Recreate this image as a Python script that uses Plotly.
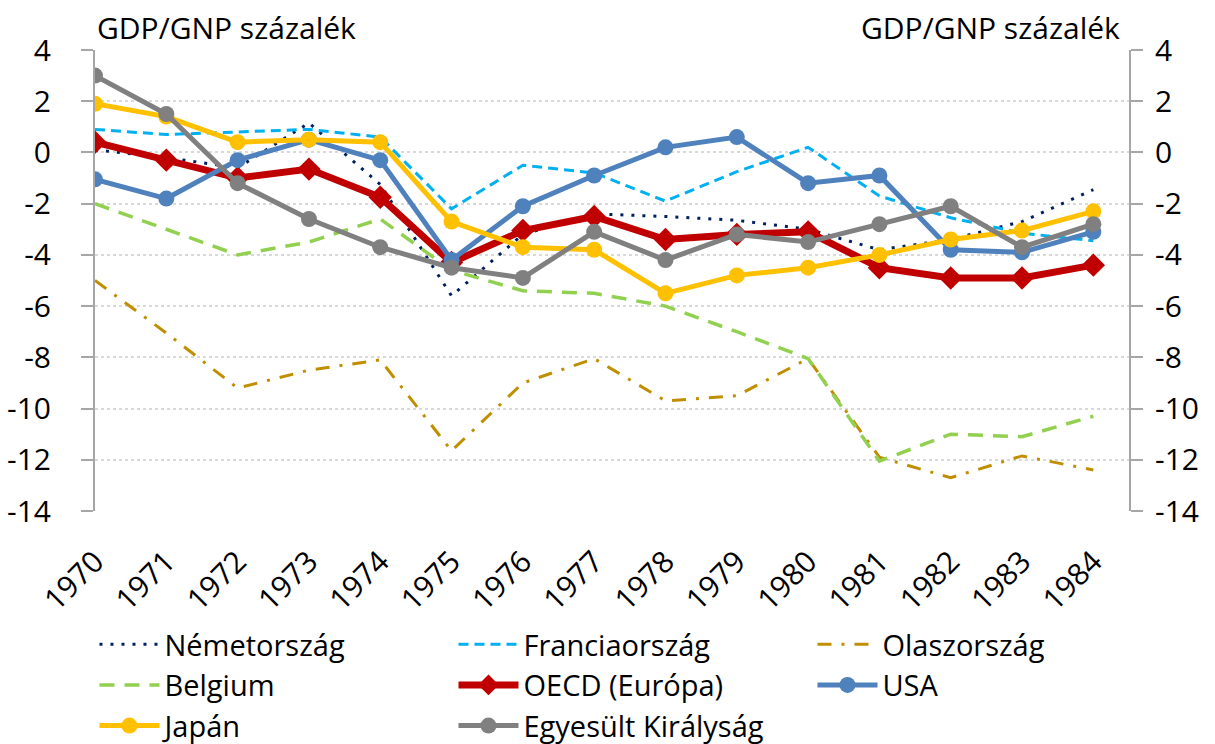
import plotly.graph_objects as go

# ---------------- data ----------------
years = list(range(1970, 1985))
year_labels = [str(y) for y in years]

nemetorszag = [0.1, -0.2, -0.6, 1.15, -1.25, -5.6, -3.2, -2.4, -2.5, -2.65, -3.0, -3.8, -3.4, -2.7, -1.45]
franciaorszag = [0.9, 0.7, 0.8, 0.9, 0.6, -2.2, -0.5, -0.8, -1.9, -0.75, 0.2, -1.7, -2.55, -3.15, -3.45]
olaszorszag = [-5.0, -7.05, -9.2, -8.5, -8.1, -11.65, -9.0, -8.05, -9.7, -9.5, -8.05, -11.9, -12.7, -11.85, -12.4]
belgium = [-2.0, -3.0, -4.0, -3.5, -2.6, -4.6, -5.4, -5.5, -6.0, -7.0, -8.05, -12.05, -11.0, -11.1, -10.3]
oecd_europa = [0.4, -0.3, -1.0, -0.65, -1.75, -4.3, -3.05, -2.5, -3.4, -3.2, -3.1, -4.5, -4.9, -4.9, -4.4]
usa = [-1.05, -1.8, -0.3, 0.5, -0.3, -4.2, -2.1, -0.9, 0.2, 0.6, -1.2, -0.9, -3.8, -3.9, -3.1]
japan = [1.9, 1.4, 0.4, 0.5, 0.4, -2.7, -3.7, -3.8, -5.5, -4.8, -4.5, -4.0, -3.4, -3.05, -2.3]
egyesult_kiralysag = [3.0, 1.5, -1.2, -2.6, -3.7, -4.5, -4.9, -3.1, -4.2, -3.2, -3.5, -2.8, -2.1, -3.7, -2.8]

y_tick_values = [4, 2, 0, -2, -4, -6, -8, -10, -12, -14]
y_tick_labels = ["4", "2", "0", "-2", "-4", "-6", "-8", "-10", "-12", "-14"]
axis_title = "GDP/GNP százalék"

FONT = "'Open Sans', 'Noto Sans', sans-serif"
FS_TEXT = 30
FS_LEGEND = 29
FS_TICK = 30

fig = go.Figure()

def add_line(name, vals, color, width, dash="solid", marker=None):
    kw = dict(x=years, y=vals, name=name,
              line=dict(color=color, width=width, dash=dash))
    if marker:
        kw["mode"] = "lines+markers"
        kw["marker"] = marker
    else:
        kw["mode"] = "lines"
    fig.add_trace(go.Scatter(**kw))

add_line("Németország", nemetorszag, "#002060", 3, dash="3px,8px")
add_line("Franciaország", franciaorszag, "#00b0f0", 3, dash="10px,6px")
add_line("Olaszország", olaszorszag, "#bf8f00", 3, dash="14px,10px,3px,10px")
add_line("Belgium", belgium, "#92d050", 3.5, dash="15px,10px")
add_line("OECD (Európa)", oecd_europa, "#c00000", 7,
         marker=dict(symbol="diamond", size=18, color="#c00000"))
add_line("USA", usa, "#4f81bd", 5,
         marker=dict(symbol="circle", size=16, color="#4f81bd"))
add_line("Japán", japan, "#ffc000", 5,
         marker=dict(symbol="circle", size=16, color="#ffc000"))
add_line("Egyesült Királyság", egyesult_kiralysag, "#808080", 5,
         marker=dict(symbol="circle", size=16, color="#808080"))

# invisible trace on the secondary y axis so the right axis is drawn
fig.add_trace(go.Scatter(x=years, y=egyesult_kiralysag, yaxis="y2", mode="lines",
                         line=dict(width=0), showlegend=False, hoverinfo="skip",
                         opacity=0))

xr = [1970, 1984.5]
yr = [-14, 4]

fig.update_layout(
    width=1215, height=744,
    margin=dict(l=95, r=86, t=50, b=233, autoexpand=False),
    paper_bgcolor="white", plot_bgcolor="white",
    font=dict(family=FONT, size=FS_TEXT, color="#000000"),
    showlegend=True,
    legend=dict(orientation="h", x=-0.0005, xanchor="left", y=-0.234, yanchor="top",
                entrywidth=284, entrywidthmode="pixels", itemwidth=60,
                font=dict(family=FONT, size=FS_LEGEND), traceorder="normal",
                bgcolor="rgba(0,0,0,0)"),
    xaxis=dict(range=xr, tickmode="array", tickvals=years, ticktext=year_labels,
               tickangle=-45, showgrid=False, zeroline=False, showline=False,
               ticks="", ticklabelstandoff=26, tickfont=dict(size=FS_TICK),
               automargin=False),
    xaxis2=dict(range=xr, overlaying="x", anchor="free", position=14 / 18,
                side="bottom", tickmode="array", tickvals=years,
                showticklabels=False, showgrid=False, zeroline=False,
                showline=True, linecolor="#d9d9d9", linewidth=2,
                ticks="outside", ticklen=12, tickwidth=2, tickcolor="#d9d9d9",
                automargin=False),
    yaxis=dict(range=yr, tickmode="array", tickvals=y_tick_values, ticktext=y_tick_labels,
               showgrid=True, gridcolor="#d9d9d9", griddash="dot", gridwidth=1.5,
               zeroline=False, showline=True, linecolor="#a6a6a6", linewidth=2,
               ticks="outside", ticklen=12, tickwidth=2, tickcolor="#a6a6a6",
               ticklabelstandoff=24, tickfont=dict(size=FS_TICK), automargin=False),
    yaxis2=dict(range=yr, overlaying="y", side="right", tickmode="array",
                tickvals=y_tick_values, ticktext=y_tick_labels,
                showgrid=False, zeroline=False, showline=True, linecolor="#a6a6a6",
                linewidth=2, ticks="outside", ticklen=12, tickwidth=2,
                tickcolor="#a6a6a6", ticklabelstandoff=6, tickfont=dict(size=FS_TICK),
                automargin=False),
    annotations=[
        dict(text=axis_title, xref="paper", yref="paper", x=0.0, y=1.0,
             xanchor="left", yanchor="bottom", yshift=0, showarrow=False,
             font=dict(family=FONT, size=FS_TEXT)),
        dict(text=axis_title, xref="paper", yref="paper", x=0.993, y=1.0,
             xanchor="right", yanchor="bottom", yshift=0, showarrow=False,
             font=dict(family=FONT, size=FS_TEXT)),
    ],
)

fig.write_html("out.html", config={"displayModeBar": False},
               post_script="document.body.style.margin='0px';")
